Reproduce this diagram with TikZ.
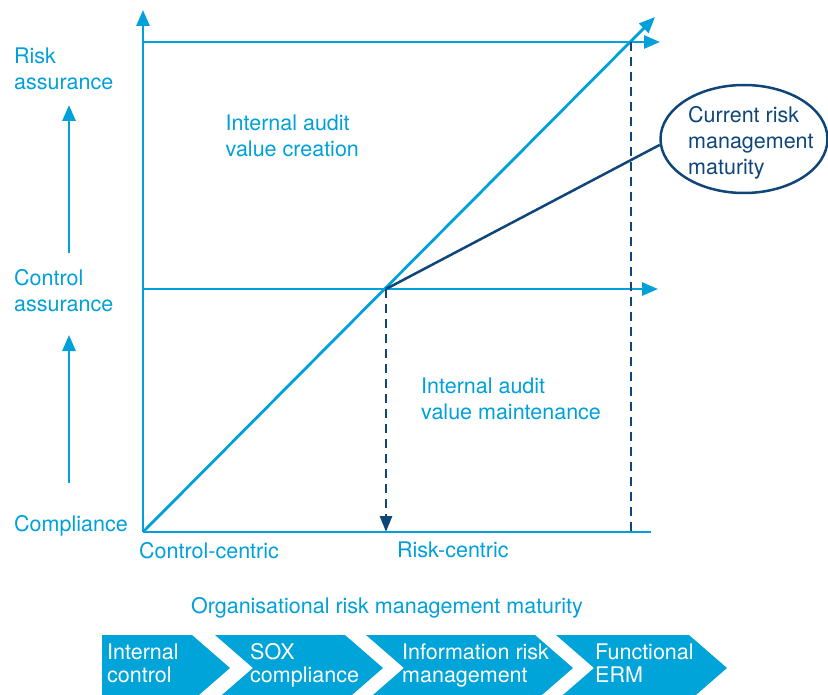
\documentclass[tikz,border=0pt]{standalone}
\usepackage{fontspec}
\setmainfont{TeX Gyre Heros}
\usetikzlibrary{arrows.meta,shapes.geometric}
\definecolor{sky}{RGB}{0,160,218}
\definecolor{navy}{RGB}{14,70,122}
\definecolor{band}{RGB}{0,164,216}

\begin{document}
\begin{tikzpicture}[x=1pt,y=-1pt,
  txt/.style={inner sep=0pt, align=left, font=\fontsize{21.5}{26}\selectfont},
  lbl/.style={txt, text=sky, anchor=north west},
  baselbl/.style={txt, text=sky, anchor=base west},
  axis/.style={draw=sky, line width=2.8pt},
  skytip/.style={-{Triangle[length=16pt,width=13pt]}},
  guide/.style={draw=navy, line width=2.8pt, dash pattern=on 9pt off 6pt},
  chev/.style={fill=band},
  chevtxt/.style={inner sep=0pt, align=left, text=white, anchor=north west,
    font=\fontsize{21.5}{23}\selectfont}]

\useasboundingbox (0,0) rectangle (828,695);

% key points of the chart
\coordinate (O) at (143,532);
\coordinate (ytop) at (143,10);
\coordinate (xend) at (651,532);
\coordinate (hiL) at (143,42);
\coordinate (hiR) at (660,42);
\coordinate (midL) at (143,289);
\coordinate (midR) at (658,289);
\coordinate (diagEnd) at (655,17);
\coordinate (cross) at (386,289);
\coordinate (crossFoot) at (386,532);
\coordinate (hiCross) at (631,42);
\coordinate (hiFoot) at (631,532);

% axes and level lines
\draw[axis] (O) -- (xend);
\draw[axis, skytip] (O) -- (ytop);
\draw[axis, skytip] (hiL) -- (hiR);
\draw[axis, skytip] (midL) -- (midR);
\draw[axis, skytip] (O) -- (diagEnd);

% dashed drop lines
\draw[guide] (hiCross) -- (hiFoot);
\draw[guide, -{Triangle[length=16pt,width=12pt]}] (cross) -- (crossFoot);

% maturity callout
\node[ellipse, draw=navy, line width=2.5pt, minimum width=167pt,
      minimum height=108pt, inner sep=0pt] (cm) at (744,139) {};
\node[txt, text=navy, anchor=north west] (cmtext) at (688,106.4)
  {Current risk\\management\\maturity};
\draw[navy, line width=2.5pt] (cross) -- (cm.184);

% vertical scale on the left
\node[lbl] (risk) at (14,47.4) {Risk\\assurance};
\node[lbl] (control) at (14,269.4) {Control\\assurance};
\node[baselbl] (compl) at (14,531) {Compliance};
\coordinate (a1s) at (69,253);
\coordinate (a1e) at (69,105);
\coordinate (a2s) at (69,483);
\coordinate (a2e) at (69,335);
\draw[axis, skytip] (a1s) -- (a1e);
\draw[axis, skytip] (a2s) -- (a2e);

% region labels
\node[lbl] (create) at (225.5,114.5) {Internal audit\\value creation};
\node[lbl] (maint) at (421,377.4) {Internal audit\\value maintenance};

% horizontal scale
\node[baselbl] (cc) at (139,558) {Control-centric};
\node[baselbl] (rc) at (397,557) {Risk-centric};
\node[txt, text=sky, anchor=base] (orm) at (387,613)
  {Organisational risk management maturity};

% maturity stages
\fill[chev] (102,635) -- (192,635) -- (230,668) -- (192,701) -- (102,701) -- cycle;
\fill[chev] (215,635) -- (345,635) -- (383,668) -- (345,701) -- (215,701) -- (253,668) -- cycle;
\fill[chev] (366,635) -- (535,635) -- (573,668) -- (535,701) -- (366,701) -- (404,668) -- cycle;
\fill[chev] (556,635) -- (689,635) -- (727,668) -- (689,701) -- (556,701) -- (594,668) -- cycle;
\node[chevtxt] (s1) at (107,643.4) {Internal\\control};
\node[chevtxt] (s2) at (250,643.4) {SOX\\compliance};
\node[chevtxt] (s3) at (402,643.4) {Information risk\\management};
\node[chevtxt] (s4) at (595,643.4) {Functional\\ERM};

\end{tikzpicture}
\end{document}
